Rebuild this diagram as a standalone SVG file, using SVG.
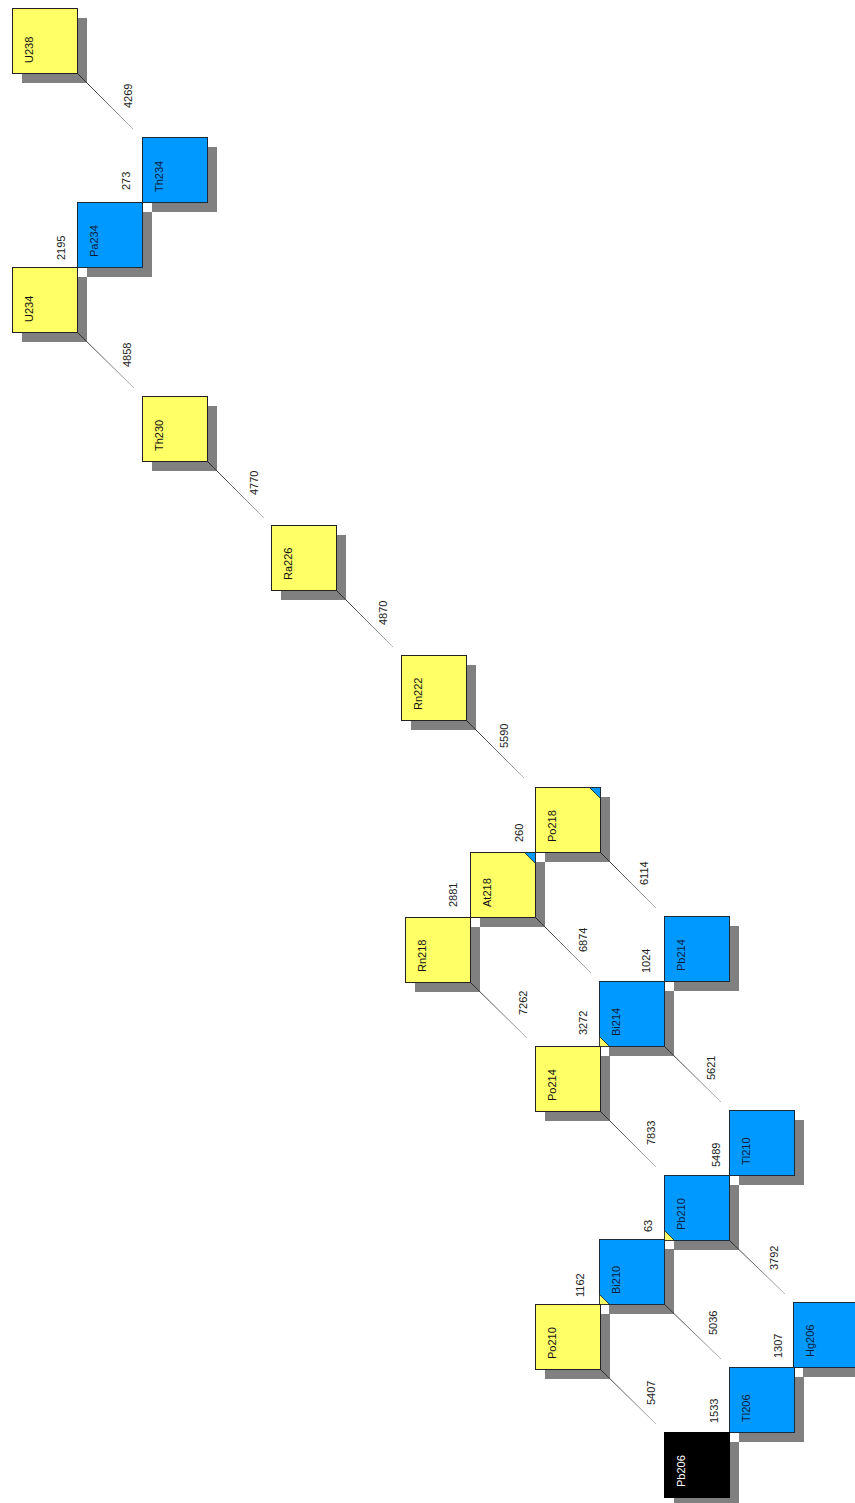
<svg xmlns="http://www.w3.org/2000/svg" width="855" height="1503" viewBox="0 0 855 1503">
<style>
.sh{fill:#808080}
.y{fill:#ffff66;stroke:#222;stroke-width:1}
.b{fill:#0099ff;stroke:#1a2a3a;stroke-width:1}
.k{fill:#000;stroke:#000;stroke-width:1}
.t{font-family:"Liberation Sans",Arial,sans-serif;font-size:11px;fill:#111}
.tb{font-family:"Liberation Sans",Arial,sans-serif;font-size:11px;fill:#0a1f3f}
.tw{font-family:"Liberation Sans",Arial,sans-serif;font-size:11px;fill:#fff}
.l{font-family:"Liberation Sans",Arial,sans-serif;font-size:11px;fill:#222}
.c{stroke:url(#g);stroke-width:1;fill:none}
.ty{fill:#ffff66;stroke:#222;stroke-width:0.8}
.tbl{fill:#0099ff;stroke:#222;stroke-width:0.8}
</style>
<defs>
<linearGradient id="g" x1="0" y1="0" x2="1" y2="1">
<stop offset="0" stop-color="#222"/>
<stop offset="1" stop-color="#bbb"/>
</linearGradient>
</defs>
<rect width="855" height="1503" fill="#fff"/>
<g id="shadows">
<rect class="sh" x="22" y="18" width="65" height="65"/>
<rect class="sh" x="152" y="147" width="65" height="65"/>
<rect class="sh" x="87" y="212" width="65" height="65"/>
<rect class="sh" x="22" y="277" width="65" height="65"/>
<rect class="sh" x="152" y="406" width="65" height="65"/>
<rect class="sh" x="281" y="535" width="65" height="65"/>
<rect class="sh" x="411" y="665" width="65" height="65"/>
<rect class="sh" x="545" y="797" width="65" height="65"/>
<rect class="sh" x="480" y="862" width="65" height="65"/>
<rect class="sh" x="415" y="927" width="65" height="65"/>
<rect class="sh" x="674" y="926" width="65" height="65"/>
<rect class="sh" x="609" y="991" width="65" height="65"/>
<rect class="sh" x="545" y="1056" width="65" height="65"/>
<rect class="sh" x="739" y="1120" width="65" height="65"/>
<rect class="sh" x="674" y="1185" width="65" height="65"/>
<rect class="sh" x="609" y="1249" width="65" height="65"/>
<rect class="sh" x="545" y="1314" width="65" height="65"/>
<rect class="sh" x="803" y="1312" width="65" height="65"/>
<rect class="sh" x="739" y="1377" width="65" height="65"/>
<rect class="sh" x="674" y="1442" width="65" height="65"/>
</g>
<g id="connectors">
<line class="c" x1="77" y1="73" x2="133" y2="129"/>
<line class="c" x1="77" y1="332" x2="134" y2="388"/>
<line class="c" x1="207" y1="461" x2="264" y2="518"/>
<line class="c" x1="336" y1="590" x2="393" y2="647"/>
<line class="c" x1="466" y1="720" x2="524" y2="778"/>
<line class="c" x1="600" y1="852" x2="656" y2="908"/>
<line class="c" x1="535" y1="917" x2="591" y2="973"/>
<line class="c" x1="470" y1="982" x2="527" y2="1038"/>
<line class="c" x1="664" y1="1046" x2="721" y2="1102"/>
<line class="c" x1="600" y1="1111" x2="656" y2="1167"/>
<line class="c" x1="664" y1="1304" x2="721" y2="1359"/>
<line class="c" x1="729" y1="1240" x2="785" y2="1294"/>
<line class="c" x1="600" y1="1369" x2="656" y2="1424"/>
<text class="l" transform="translate(132,108) rotate(-90)">4269</text>
<text class="l" transform="translate(131,367) rotate(-90)">4858</text>
<text class="l" transform="translate(258,495) rotate(-90)">4770</text>
<text class="l" transform="translate(387,625) rotate(-90)">4870</text>
<text class="l" transform="translate(508,748) rotate(-90)">5590</text>
<text class="l" transform="translate(648,885) rotate(-90)">6114</text>
<text class="l" transform="translate(587,952) rotate(-90)">6874</text>
<text class="l" transform="translate(527,1015) rotate(-90)">7262</text>
<text class="l" transform="translate(715,1080) rotate(-90)">5621</text>
<text class="l" transform="translate(655,1145) rotate(-90)">7833</text>
<text class="l" transform="translate(717,1335) rotate(-90)">5036</text>
<text class="l" transform="translate(778,1270) rotate(-90)">3792</text>
<text class="l" transform="translate(655,1405) rotate(-90)">5407</text>
<text class="l" transform="translate(130,190) rotate(-90)">273</text>
<text class="l" transform="translate(65,260) rotate(-90)">2195</text>
<text class="l" transform="translate(523,842) rotate(-90)">260</text>
<text class="l" transform="translate(457,907) rotate(-90)">2881</text>
<text class="l" transform="translate(650,973) rotate(-90)">1024</text>
<text class="l" transform="translate(587,1035) rotate(-90)">3272</text>
<text class="l" transform="translate(720,1167) rotate(-90)">5489</text>
<text class="l" transform="translate(652,1232) rotate(-90)">63</text>
<text class="l" transform="translate(584,1297) rotate(-90)">1162</text>
<text class="l" transform="translate(782,1358) rotate(-90)">1307</text>
<text class="l" transform="translate(718,1423) rotate(-90)">1533</text>
</g>
<g id="U238"><rect class="y" x="12.5" y="8.5" width="65" height="65"/><text class="t" transform="translate(33,63) rotate(-90)">U238</text></g>
<g id="Th234"><rect class="b" x="142.5" y="137.5" width="65" height="65"/><text class="tb" transform="translate(163,192) rotate(-90)">Th234</text></g>
<g id="Pa234"><rect class="b" x="77.5" y="202.5" width="65" height="65"/><text class="tb" transform="translate(98,257) rotate(-90)">Pa234</text></g>
<g id="U234"><rect class="y" x="12.5" y="267.5" width="65" height="65"/><text class="t" transform="translate(33,322) rotate(-90)">U234</text></g>
<g id="Th230"><rect class="y" x="142.5" y="396.5" width="65" height="65"/><text class="t" transform="translate(163,451) rotate(-90)">Th230</text></g>
<g id="Ra226"><rect class="y" x="271.5" y="525.5" width="65" height="65"/><text class="t" transform="translate(292,580) rotate(-90)">Ra226</text></g>
<g id="Rn222"><rect class="y" x="401.5" y="655.5" width="65" height="65"/><text class="t" transform="translate(422,710) rotate(-90)">Rn222</text></g>
<g id="Po218"><rect class="y" x="535.5" y="787.5" width="65" height="65"/><polygon class="tbl" points="589.5,787.5 600.5,787.5 600.5,798.5"/><text class="t" transform="translate(556,842) rotate(-90)">Po218</text></g>
<g id="At218"><rect class="y" x="470.5" y="852.5" width="65" height="65"/><polygon class="tbl" points="524.5,852.5 535.5,852.5 535.5,863.5"/><text class="t" transform="translate(491,907) rotate(-90)">At218</text></g>
<g id="Rn218"><rect class="y" x="405.5" y="917.5" width="65" height="65"/><text class="t" transform="translate(426,972) rotate(-90)">Rn218</text></g>
<g id="Pb214"><rect class="b" x="664.5" y="916.5" width="65" height="65"/><text class="tb" transform="translate(685,971) rotate(-90)">Pb214</text></g>
<g id="Bi214"><rect class="b" x="599.5" y="981.5" width="65" height="65"/><polygon class="ty" points="599.5,1036.5 599.5,1046.5 609.5,1046.5"/><text class="tb" transform="translate(620,1036) rotate(-90)">Bi214</text></g>
<g id="Po214"><rect class="y" x="535.5" y="1046.5" width="65" height="65"/><text class="t" transform="translate(556,1101) rotate(-90)">Po214</text></g>
<g id="Tl210"><rect class="b" x="729.5" y="1110.5" width="65" height="65"/><text class="tb" transform="translate(750,1165) rotate(-90)">Tl210</text></g>
<g id="Pb210"><rect class="b" x="664.5" y="1175.5" width="65" height="65"/><polygon class="ty" points="664.5,1230.5 664.5,1240.5 674.5,1240.5"/><text class="tb" transform="translate(685,1230) rotate(-90)">Pb210</text></g>
<g id="Bi210"><rect class="b" x="599.5" y="1239.5" width="65" height="65"/><polygon class="ty" points="599.5,1294.5 599.5,1304.5 609.5,1304.5"/><text class="tb" transform="translate(620,1294) rotate(-90)">Bi210</text></g>
<g id="Po210"><rect class="y" x="535.5" y="1304.5" width="65" height="65"/><text class="t" transform="translate(556,1359) rotate(-90)">Po210</text></g>
<g id="Hg206"><rect class="b" x="793.5" y="1302.5" width="65" height="65"/><text class="tb" transform="translate(814,1357) rotate(-90)">Hg206</text></g>
<g id="Tl206"><rect class="b" x="729.5" y="1367.5" width="65" height="65"/><text class="tb" transform="translate(750,1422) rotate(-90)">Tl206</text></g>
<g id="Pb206"><rect class="k" x="664.5" y="1432.5" width="65" height="65"/><text class="tw" transform="translate(685,1487) rotate(-90)">Pb206</text></g>
</svg>
